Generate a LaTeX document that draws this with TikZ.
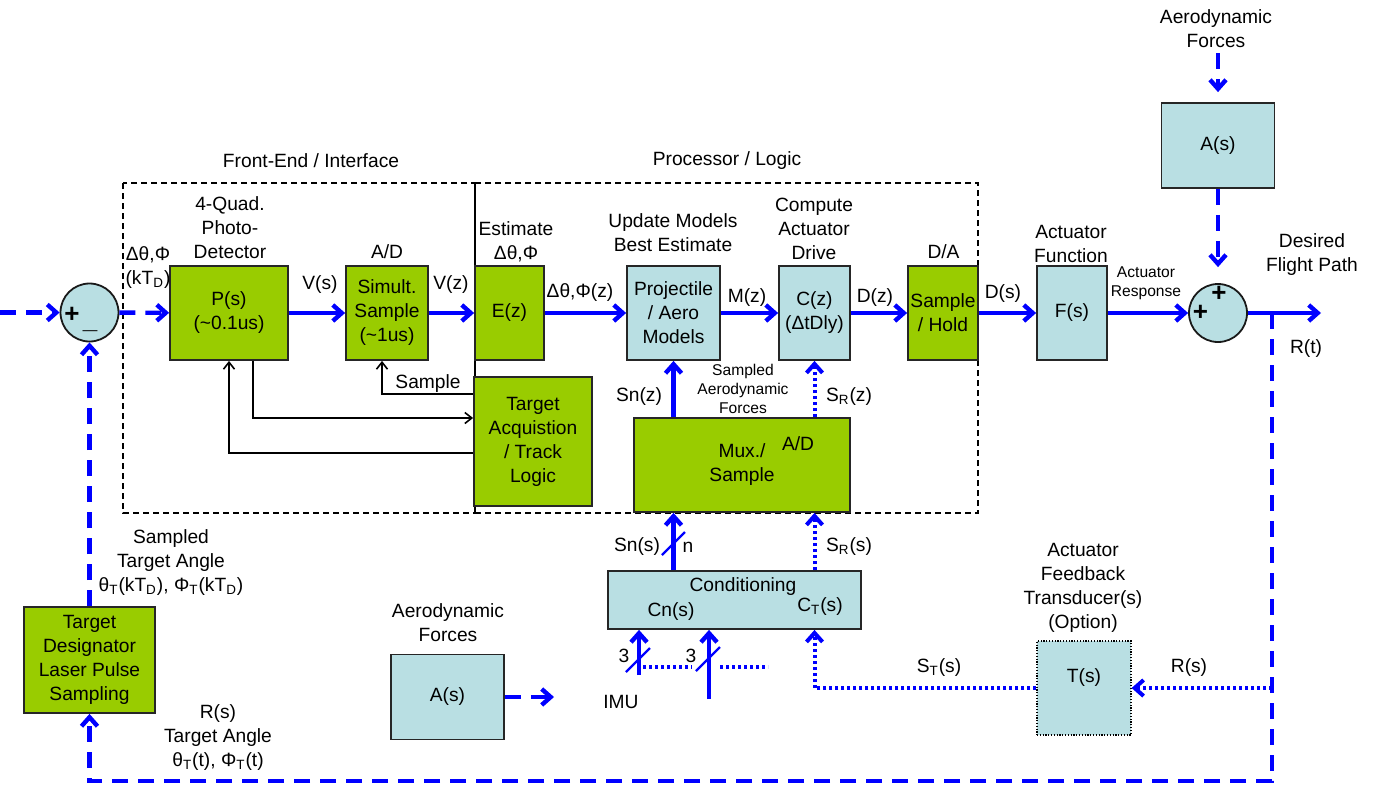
\documentclass[tikz,border=0pt]{standalone}
\usepackage{fontspec}
\setmainfont{Liberation Sans}
\usepackage{tikz}
\usetikzlibrary{arrows.meta,positioning}
\definecolor{boxgreen}{HTML}{99CC00}
\definecolor{boxblue}{HTML}{B9DFE3}
\definecolor{sigblue}{HTML}{0000FF}
\newcommand{\lsub}[1]{\textsubscript{#1}}

\begin{document}
\begin{tikzpicture}[
  x=0.5pt, y=-0.5pt,
  every node/.style={font=\fontsize{9.6}{12}\selectfont, align=center, inner sep=1pt},
  gbox/.style={draw=black!85, line width=0.9pt, fill=boxgreen, inner sep=0pt},
  bbox/.style={draw=black!85, line width=0.9pt, fill=boxblue, inner sep=0pt},
  sumj/.style={circle, draw=black!90, line width=0.9pt, fill=boxblue, minimum size=29pt, inner sep=0pt},
  sig/.style={sigblue, line width=2.2pt, -{Straight Barb[length=4.5pt,width=8pt]}},
  dsig/.style={sig, dash pattern=on 8pt off 5pt},
  osig/.style={sig, line width=2pt, dash pattern=on 1.6pt off 1.4pt},
  ctl/.style={black, line width=0.8pt, -{Straight Barb[length=3.5pt,width=5.5pt]}},
  smalltxt/.style={font=\fontsize{7.8}{9.5}\selectfont},
  pm/.style={font=\fontsize{13}{13}\selectfont\bfseries},
  busmark/.style={sigblue, line width=1.1pt},
  zone/.style={black, line width=0.6pt, dash pattern=on 3pt off 2pt}
]
\useasboundingbox (0,0) rectangle (1376,788);

% dashed zones
\draw[zone] (123,183) rectangle (475,513);
\draw[zone] (475,183) rectangle (978,513);
\node (lFE) at (311,161) {Front-End / Interface};
\node (lPL) at (727,161) {Processor / Logic};

% forward path
\node[sumj] (sum1) at (89.5,312.5) {};
\node[gbox, minimum width=59pt, minimum height=47pt] (P) at (229,313) {P(s)\\(\textasciitilde0.1us)};
\node[gbox, minimum width=41pt, minimum height=47pt] (S) at (387,313) {Simult.\\Sample\\(\textasciitilde1us)};
\node[gbox, minimum width=34.5pt, minimum height=47pt] (E) at (509.5,313) {E(z)};
\node[bbox, minimum width=46.5pt, minimum height=47pt] (M) at (673.5,313) {Projectile\\/ Aero\\Models};
\node[bbox, minimum width=35.5pt, minimum height=47pt] (C) at (814.5,313) {C(z)\\(ΔtDly)};
\node[gbox, minimum width=35pt, minimum height=47pt] (SH) at (943,313) {Sample\\/ Hold};
\node[bbox, minimum width=35pt, minimum height=47pt] (F) at (1072,313) {F(s)};
\node[sumj] (sum2) at (1218,313) {};
\node[bbox, minimum width=56.5pt, minimum height=42.5pt] (A) at (1218,145.5) {A(s)};

% lower blocks
\node[gbox, minimum width=65.5pt, minimum height=53pt] (TD) at (89.5,660) {Target\\Designator\\Laser Pulse\\Sampling};
\node[gbox, minimum width=59pt, minimum height=64.5pt] (TA) at (533,441.5) {Target\\Acquistion\\/ Track\\Logic};
\node[gbox, minimum width=108pt, minimum height=47pt] (Mux) at (742,465) {Mux./\\Sample};
\node[bbox, minimum width=126.5pt, minimum height=29pt] (Cond) at (734.5,600) {};
\node[bbox, minimum width=56.5pt, minimum height=42.5pt] (A2) at (447.5,697) {A(s)};
\node[bbox, draw=black, line width=0.6pt, dash pattern=on 0.6pt off 0.8pt, minimum width=47pt, minimum height=47pt] (T) at (1084,688) {T(s)\\\mbox{}};

% summing signs
\node[pm] (sum1a) at (72,315) {+};
\node[pm, anchor=base] (sum1b) at (90,328) {\_};
\node[pm] (sum2a) at (1219,293.5) {+};
\node[pm] (sum2b) at (1200.5,312.5) {+};

% free ends
\coordinate (in) at (0,312.5);
\coordinate (out) at (1321,313);
\coordinate (tap) at (1272,313);
\coordinate (corner) at (89.5,781);
\coordinate (aerotop) at (1218,53);
\coordinate (aout) at (554,697);
\coordinate (imu1) at (639,675);
\coordinate (imu2) at (709,699);

% signal path
\draw[dsig] (in) -- (sum1);
\draw[dsig] (sum1) -- (P);
\draw[sig] (P) -- (S);
\draw[sig] (S) -- (E);
\draw[sig] (E) -- (M);
\draw[sig] (M) -- (C);
\draw[sig] (C) -- (SH);
\draw[sig] (SH) -- (F);
\draw[sig] (F) -- (sum2);
\draw[sig] (sum2) -- (out);
\draw[dsig, shorten >=5pt] (aerotop) -- (A);
\draw[dsig, shorten >=8pt] (A) -- (sum2);
\draw[dsig] (tap) |- (corner) -- (TD);
\draw[dsig] (TD) -- (sum1);
\draw[dsig] (A2) -- (aout);

% tracking logic
\draw[ctl] (TA.west |- 0,394) -| ([xshift=-2.5pt]S.south);
\draw[ctl] ([xshift=12pt]P.south) |- (TA.west |- 0,418);
\draw[ctl] (TA.west |- 0,453) -| (P.south);

% sensor paths
\draw[sig] (Mux.north -| M.south) -- (M.south);
\draw[osig] (Mux.north -| C.south) -- (C.south);
\draw[sig] (Cond.north -| M.south) -- (Mux.south -| M.south);
\draw[osig] (Cond.north -| C.south) -- (Mux.south -| C.south);
\draw[sig] (imu1) -- (Cond.south -| imu1);
\draw[sig] (imu2) -- (Cond.south -| imu2);
\draw[osig] (T.west) -| (Cond.south -| C.south);
\draw[osig] (tap |- T.east) -- (T.east);
\draw[busmark] (662,555) -- (685,532);
\draw[busmark] (626,672) -- (650,648);
\draw[busmark] (696,671) -- (720,647);
\draw[osig, -] (643,667) -- (692,667);
\draw[osig, -] (720,667) -- (768,667);

% labels
\node (lQuad) at (230,228) {4-Quad.\\Photo-\\Detector};
\node (lDin) at (148,268) {Δθ,Φ\\(kT\lsub{D})};
\node (lAD1) at (387,252) {A/D};
\node (lVs) at (320,285) {V(s)};
\node (lVz) at (451,285) {V(z)};
\node (lEst) at (516,242) {Estimate\\Δθ,Φ};
\node (lDz) at (580,293) {Δθ,Φ(z)};
\node (lUpd) at (673,233) {Update Models\\Best Estimate};
\node (lMz) at (747,298) {M(z)};
\node (lComp) at (814,229) {Compute\\Actuator\\Drive};
\node (lDzz) at (875,298) {D(z)};
\node (lDA) at (943.5,252) {D/A};
\node (lDs) at (1003,294) {D(s)};
\node (lAF) at (1071,243.5) {Actuator\\Function};
\node[smalltxt] (lResp) at (1146,283.5) {Actuator\\Response};
\node (lAero1) at (1216,28.5) {Aerodynamic\\Forces};
\node (lDes) at (1312,255) {Desired\\Flight Path};
\node (lRt) at (1306,349) {R(t)};
\node (lSmp) at (428,384) {Sample};
\node (lAD2) at (798,444) {A/D};
\node (lSnz) at (639,397) {Sn(z)};
\node[smalltxt] (lSAF) at (743,389) {Sampled\\Aerodynamic\\Forces};
\node (lSRz) at (849,397) {S\lsub{R}(z)};
\node (lSns) at (637,547) {Sn(s)};
\node (ln) at (688,547) {n};
\node (lSRs) at (849,547) {S\lsub{R}(s)};
\node (lCond) at (743,587) {Conditioning};
\node (lCn) at (671,612) {Cn(s)};
\node (lCT) at (820,607) {C\lsub{T}(s)};
\node (l3a) at (624,656) {3};
\node (l3b) at (691,656) {3};
\node (lIMU) at (621,702) {IMU};
\node (lAero2) at (448,623) {Aerodynamic\\Forces};
\node (lSTA) at (171,562.5) {Sampled\\Target Angle\\θ\lsub{T}(kT\lsub{D}), Φ\lsub{T}(kT\lsub{D})};
\node (lRs) at (218,738) {R(s)\\Target Angle\\θ\lsub{T}(t), Φ\lsub{T}(t)};
\node (lAFT) at (1083,588) {Actuator\\Feedback\\Transducer(s)\\(Option)};
\node (lSTs) at (939,668) {S\lsub{T}(s)};
\node (lRs2) at (1189,668) {R(s)};
\end{tikzpicture}
\end{document}
